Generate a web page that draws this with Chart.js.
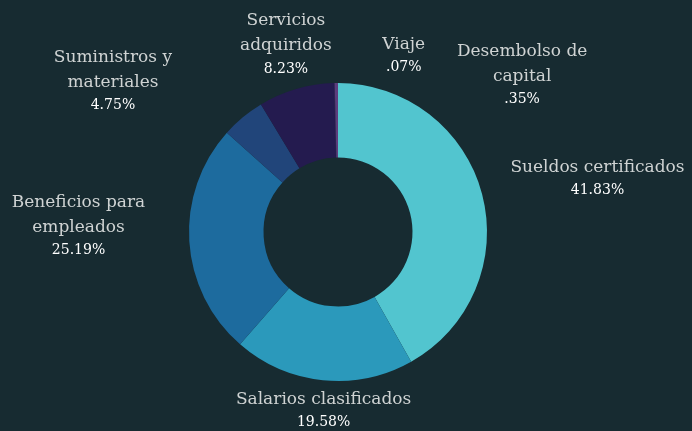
<!DOCTYPE html>
<html>
<head>
<meta charset="utf-8">
<script src="https://cdn.jsdelivr.net/npm/chart.js@4"></script>
<style>
    html, body { margin: 0; padding: 0; background: #172b31; }
    #chart { display: block; }
</style>
</head>
<body>
<canvas id="chart" width="692" height="431"></canvas>
<script>
"use strict";

// data
const categories = [
    ["Sueldos certificados"],
    ["Salarios clasificados"],
    ["Beneficios para", "empleados"],
    ["Suministros y", "materiales"],
    ["Servicios", "adquiridos"],
    ["Viaje"],
    ["Desembolso de", "capital"],
];
const percentLabels = ["41.83%", "19.58%", "25.19%", "4.75%", "8.23%", ".07%", ".35%"];
const shares = [41.83, 19.58, 25.19, 4.75, 8.23, 0.07, 0.35];

const sliceColors = ["#52c5cf", "#2b99bb", "#1d6b9e", "#21457a", "#241b4f", "#3c2a64", "#5c3d7c"];

// ラベルの位置調整 (円弧の中心角からのずれ)
const labelNudge = [
    [8, -7],
    [12, 0],
    [0, -17],
    [-59, -12],
    [21, -14],
    [72, 4],
    [187, 24],
];

const nameFont = "17px 'DejaVu Serif'";
const pctFont = "14px 'DejaVu Serif'";

const outsideLabels = {
    id: "outsideLabels",
    afterDatasetsDraw(chart) {
        const ctx = chart.ctx;
        const arcs = chart.getDatasetMeta(0).data;
        arcs.forEach((arc, i) => {
            const mid = (arc.startAngle + arc.endAngle) / 2;
            const r = arc.outerRadius;
            const cx = arc.x + Math.cos(mid) * r * 1.745 + labelNudge[i][0];
            const cy = arc.y + Math.sin(mid) * r * 1.21 + labelNudge[i][1];
            const lines = categories[i];
            const blockH = 25 * (lines.length - 1) + 23;
            let y = cy - blockH / 2;
            ctx.save();
            ctx.textAlign = "center";
            ctx.textBaseline = "middle";
            ctx.font = nameFont;
            ctx.fillStyle = "#cfd3d3";
            lines.forEach((line, k) => {
                ctx.fillText(line, cx, y + k * 25);
            });
            ctx.font = pctFont;
            ctx.fillStyle = "#ffffff";
            ctx.fillText(percentLabels[i], cx, y + 25 * (lines.length - 1) + 23);
            ctx.restore();
        });
    },
};

const context = document.getElementById("chart").getContext("2d");
new Chart(context, {
    type: "doughnut",
    data: {
        labels: categories.map((c) => c.join(" ")),
        datasets: [
            {
                data: shares,
                backgroundColor: sliceColors,
                borderWidth: 0,
            },
        ],
    },
    options: {
        responsive: false,
        animation: false,
        cutout: "50%",
        layout: {
            padding: { top: 83, bottom: 50, left: 189, right: 205 },
        },
        plugins: {
            legend: { display: false },
            tooltip: { enabled: false },
        },
    },
    plugins: [outsideLabels],
});
</script>
</body>
</html>
